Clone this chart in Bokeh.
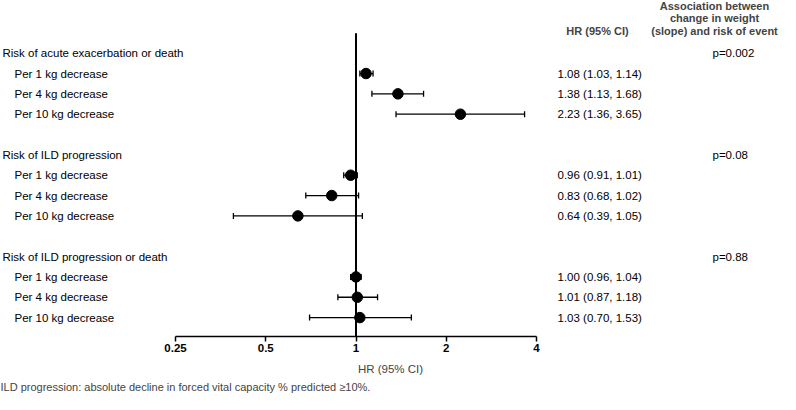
from bokeh.plotting import figure
from bokeh.models import (ColumnDataSource, Range1d, FixedTicker, LabelSet, Label,
                          Whisker, TeeHead, Title)
from bokeh.core.properties import value
from bokeh.embed import file_html
from bokeh.resources import INLINE

# ---------------- data ----------------
groups = ["Risk of acute exacerbation or death",
          "Risk of ILD progression",
          "Risk of ILD progression or death"]
p_values = ["p=0.002", "p=0.08", "p=0.88"]
sub_labels = ["Per 1 kg decrease", "Per 4 kg decrease", "Per 10 kg decrease"]
hr_acute = [1.08, 1.38, 2.23]
lo_acute = [1.03, 1.13, 1.36]
hi_acute = [1.14, 1.68, 3.65]
hr_ild = [0.96, 0.83, 0.64]
lo_ild = [0.91, 0.68, 0.39]
hi_ild = [1.01, 1.02, 1.05]
hr_ilddeath = [1.00, 1.01, 1.03]
lo_ilddeath = [0.96, 0.87, 0.70]
hi_ilddeath = [1.04, 1.18, 1.53]
x_ticks = [0.25, 0.5, 1, 2, 4]
x_tick_labels = ["0.25", "0.5", "1", "2", "4"]
footnote = "ILD progression: absolute decline in forced vital capacity % predicted \u226510%."

FONT = "Liberation Sans"

# ---------------- build rows ----------------
hr_all = [hr_acute, hr_ild, hr_ilddeath]
lo_all = [lo_acute, lo_ild, lo_ilddeath]
hi_all = [hi_acute, hi_ild, hi_ilddeath]

head_rows, item_rows, item_labels, hr, lo, hi, hr_text = [], [], [], [], [], [], []
for g in range(len(groups)):
    base = 5 * g
    head_rows.append(base)
    for i in range(3):
        item_rows.append(base + 1 + i)
        item_labels.append(sub_labels[i])
        hr.append(hr_all[g][i]); lo.append(lo_all[g][i]); hi.append(hi_all[g][i])
        hr_text.append(f"{hr_all[g][i]:.2f} ({lo_all[g][i]:.2f}, {hi_all[g][i]:.2f})")

items = ColumnDataSource(dict(y=item_rows, label=item_labels, hr=hr, lo=lo, hi=hi, txt=hr_text))
heads = ColumnDataSource(dict(y=head_rows, label=groups, p=p_values))

# ---------------- layout constants ----------------
W, H = 780, 394
frame_h = 338
BOTTOM = H - frame_h
px_per_doubling = 90.25
x_one = 355.5          # px of HR=1 within frame
row_h = 20.46
row0 = 53.0            # px of first row from frame top

x_start = 2 ** (-x_one / px_per_doubling)
x_end = 2 ** ((W - x_one) / px_per_doubling)
y_top = -row0 / row_h
y_bot = (frame_h - row0) / row_h
vline_top = (33 - row0) / row_h

p = figure(width=W, height=H, x_axis_type="log", output_backend="svg",
           toolbar_location=None, x_range=Range1d(x_start, x_end),
           y_range=Range1d(y_bot, y_top),
           min_border_left=0, min_border_right=0, min_border_top=0,
           min_border_bottom=BOTTOM)
p.outline_line_color = None
p.grid.visible = False
p.yaxis.visible = False

ax = p.xaxis[0]
ax.bounds = (min(x_ticks), max(x_ticks))
ax.ticker = FixedTicker(ticks=x_ticks)
ax.major_label_overrides = {t: l for t, l in zip(x_ticks, x_tick_labels)}
ax.minor_tick_line_color = None
ax.major_tick_in = 0
ax.major_tick_out = 5
ax.axis_line_width = 1.5
ax.major_tick_line_width = 1.5
ax.major_label_text_font = FONT
ax.major_label_text_font_size = "11.5px"
ax.major_label_text_font_style = "bold"
ax.major_label_text_color = "black"
ax.major_label_standoff = 2
ax.axis_label = "HR (95% CI)"
ax.axis_label_text_font = FONT
ax.axis_label_text_font_size = "11.5px"
ax.axis_label_text_font_style = "normal"
ax.axis_label_standoff = 8

foot = Title(text=footnote, align="left", text_font=FONT, text_font_size="11px",
             text_font_style="normal", standoff=3, offset=0)
p.add_layout(foot, "below")

# reference line at HR = 1
p.segment(x0=[1], y0=[vline_top], x1=[1], y1=[y_bot], line_color="black", line_width=2)

# CIs
wh = Whisker(source=items, base="y", lower="lo", upper="hi", dimension="width",
             line_color="black", line_width=1.3,
             lower_head=TeeHead(size=6, line_color="black", line_width=1.3),
             upper_head=TeeHead(size=6, line_color="black", line_width=1.3))
p.add_layout(wh)
p.scatter(x="hr", y="y", source=items, size=10.5, color="black")

# text columns
common = dict(text_font=value(FONT), text_font_size=value("11.5px"),
              text_baseline=value("middle"), text_color=value("black"))
p.add_layout(LabelSet(x=2, y="y", x_units="screen", text="label", source=heads, **common))
p.add_layout(LabelSet(x=14, y="y", x_units="screen", text="label", source=items, **common))
p.add_layout(LabelSet(x=557, y="y", x_units="screen", text="txt", source=items, **common))
p.add_layout(LabelSet(x=712, y="y", x_units="screen", text="p", source=heads, **common))

# column headers
hdr = dict(text_font=FONT, text_font_size="11px", text_font_style="bold",
           text_baseline="middle", text_align="center", x_units="screen", y_units="screen")
p.add_layout(Label(x=597, y=frame_h - 32, text="HR (95% CI)", **hdr))
for k, t in enumerate(["Association between", "change in weight",
                       "(slope) and risk of event"]):
    p.add_layout(Label(x=714, y=frame_h - 7 - 12.5 * k, text=t, **hdr))

open("out.html", "w").write(file_html(p, INLINE))
